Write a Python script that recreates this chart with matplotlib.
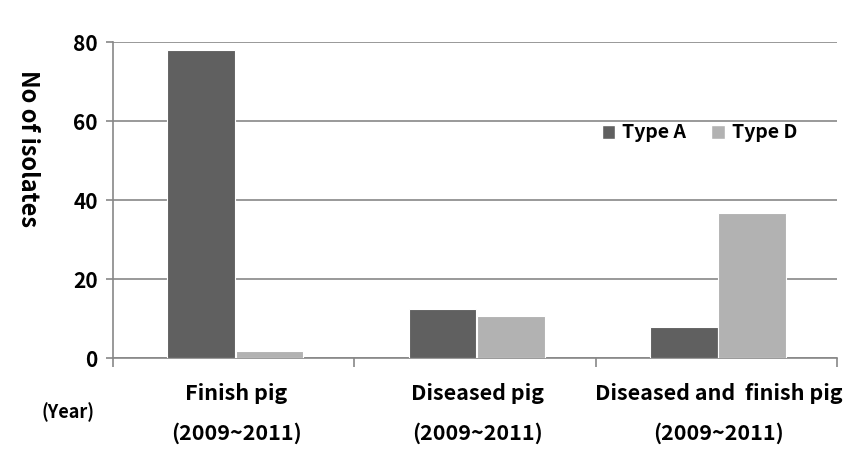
import matplotlib
matplotlib.use('Agg')
import matplotlib.pyplot as plt
import matplotlib.transforms as mtransforms
from matplotlib.patches import Patch
import numpy as np

plt.rcParams['font.family'] = ['Noto Sans CJK KR', 'DejaVu Sans']
plt.rcParams['font.weight'] = 'bold'

groups = ['Finish pig', 'Diseased pig', 'Diseased and  finish pig']
years = ['(2009~2011)', '(2009~2011)', '(2009~2011)']
type_a = [78, 12.5, 8]
type_d = [1.8, 10.8, 36.7]

col_a = '#606060'
col_d = '#b2b2b2'
grid_col = '#878787'

fig = plt.figure(figsize=(8.64, 4.63), dpi=100)
ax = fig.add_axes([113/864, 1-358.3/463, (837-113)/864, (358.3-42.3)/463])

x = np.arange(len(groups))
w = 0.28
ax.bar(x + 0.365, type_a, w, color=col_a, edgecolor='white', linewidth=0.8, zorder=3)
ax.bar(x + 0.648, type_d, w, color=col_d, edgecolor='white', linewidth=0.8, zorder=3)

ax.set_xlim(0, 3)
ax.set_ylim(0, 80)
ax.set_yticks([0, 20, 40, 60, 80])
ax.set_xticks([0, 1, 2, 3])
ax.set_xticklabels([])
ax.yaxis.grid(True, color=grid_col, linewidth=1.2, zorder=0)
ax.tick_params(axis='y', length=5, color=grid_col, width=1.2, labelsize=15, pad=6)
ax.tick_params(axis='x', length=6.5, color=grid_col, width=1.2)
for lab in ax.get_yticklabels():
    lab.set_fontweight('bold')
for s in ['top', 'right']:
    ax.spines[s].set_visible(False)
for s in ['left', 'bottom']:
    ax.spines[s].set_color(grid_col)
    ax.spines[s].set_linewidth(1.2)

trans = mtransforms.blended_transform_factory(ax.transData, fig.transFigure)
for i in range(len(groups)):
    ax.text(i + 0.51, 1 - 393/463, groups[i], transform=trans, ha='center', va='center',
            fontsize=15.5, fontweight='bold')
    ax.text(i + 0.51, 1 - 433/463, years[i], transform=trans, ha='center', va='center',
            fontsize=15.5, fontweight='bold')
fig.text(68/864, 1 - 412/463, '(Year)', ha='center', va='center', fontsize=13, fontweight='bold')

fig.text(28/864, 1 - 149/463, 'No of isolates', rotation=-90, ha='center', va='center',
         fontsize=17, fontweight='bold')

handles = [Patch(facecolor=col_a, edgecolor='white', label='Type A'),
           Patch(facecolor=col_d, edgecolor='white', label='Type D')]
ax.legend(handles=handles, loc='center left', bbox_to_anchor=(584/864, 1 - 133/463),
          bbox_transform=fig.transFigure, ncol=2, frameon=False, handlelength=0.7,
          handleheight=0.7, handletextpad=0.35, columnspacing=1.3,
          prop={'weight': 'bold', 'size': 14})

fig.savefig('out.png', dpi=100)
